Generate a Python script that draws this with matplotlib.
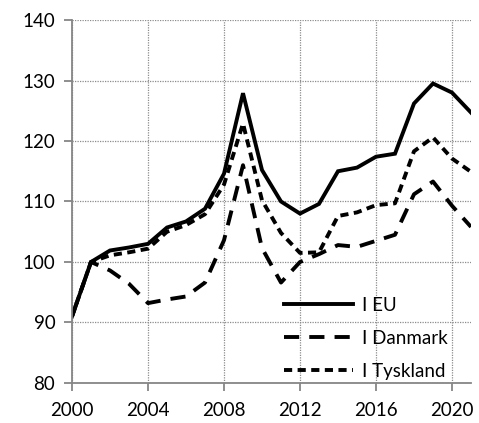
import matplotlib
matplotlib.use("Agg")
import matplotlib.pyplot as plt

years = list(range(2000, 2022))
eu = [91.0, 100.0, 101.9, 102.4, 103.0, 105.7, 106.7, 108.8, 114.6, 127.9, 115.2, 110.0,
      108.0, 109.6, 115.0, 115.6, 117.4, 117.9, 126.2, 129.5, 128.0, 124.7]
danmark = [91.0, 100.0, 98.6, 96.4, 93.2, 93.8, 94.3, 96.6, 103.6, 116.0, 102.3, 96.6,
           100.0, 101.3, 102.8, 102.5, 103.5, 104.5, 111.2, 113.3, 109.3, 105.8]
tyskland = [91.0, 100.0, 101.1, 101.6, 102.2, 105.0, 106.1, 107.9, 112.8, 122.9, 110.2, 104.8,
            101.5, 101.6, 107.6, 108.2, 109.4, 109.7, 118.3, 120.6, 117.1, 114.9]
labels = ["I EU", "I Danmark", "I Tyskland"]
xticks = [2000, 2004, 2008, 2012, 2016, 2020]
yticks = [80, 90, 100, 110, 120, 130, 140]

plt.rcParams['font.family'] = ['Lato', 'DejaVu Sans']

fig = plt.figure(figsize=(4.79, 4.23), dpi=100)
ax = fig.add_axes([0.1503, 0.0946, 0.833, 0.8581])

lw = 2.8
ax.plot(years, eu, color='black', lw=lw, solid_joinstyle='miter', label=labels[0])
ax.plot(years, danmark, color='black', lw=lw, dashes=(3.9, 2.6), dash_capstyle='butt',
        label=labels[1])
ax.plot(years, tyskland, color='black', lw=lw, dashes=(2.1, 1.4), dash_capstyle='butt',
        label=labels[2])

ax.set_xlim(2000, 2021)
ax.set_ylim(80, 140)
ax.set_xticks(xticks)
ax.set_yticks(yticks)
ax.grid(True, color='#8c8c8c', linestyle=(0, (1, 1)), linewidth=0.9)
ax.set_axisbelow(True)
for s in ['top', 'right']:
    ax.spines[s].set_visible(False)
for s in ['left', 'bottom']:
    ax.spines[s].set_color('#868686')
    ax.spines[s].set_linewidth(1.3)
ax.tick_params(axis='both', direction='out', length=6, width=1.3, color='#868686',
               labelsize=13.5, labelcolor='black')
ax.tick_params(axis='x', pad=8)
ax.tick_params(axis='y', pad=6)

leg = ax.legend(loc='lower left', bbox_to_anchor=(0.512, -0.012), frameon=False,
                fontsize=13.5, handlelength=3.7, handletextpad=0.45,
                labelspacing=0.85, borderaxespad=0.0)

fig.savefig('out.png', dpi=100)
